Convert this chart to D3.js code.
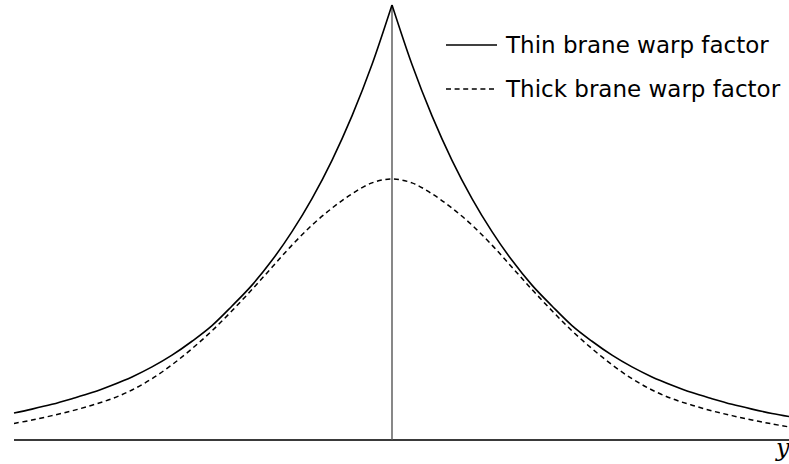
<!DOCTYPE html>
<html>
<head>
<meta charset="utf-8">
<script src="https://cdn.jsdelivr.net/npm/d3@7/dist/d3.min.js"></script>
<style>
  html, body { margin: 0; padding: 0; background: #fff; }
  svg { display: block; }
</style>
</head>
<body>
<svg id="chart" width="789" height="464"></svg>
<script>
// Extra-dimension coordinate y (sample positions)
const yPositions = [-3.78, -3.6, -3.4, -3.2, -3.0, -2.8, -2.6, -2.4, -2.2, -2.0, -1.8, -1.6, -1.4, -1.2, -1.0, -0.8, -0.6, -0.4, -0.2, 0,
                    0.2, 0.4, 0.6, 0.8, 1.0, 1.2, 1.4, 1.6, 1.8, 2.0, 2.2, 2.4, 2.6, 2.8, 3.0, 3.2, 3.4, 3.6, 3.8, 3.97];

// Thin brane warp factor (cusp at the brane, y = 0)
const thinWarp = [0.062, 0.071, 0.082, 0.095, 0.109, 0.126, 0.145, 0.168, 0.195, 0.227, 0.263, 0.308, 0.356, 0.413, 0.479, 0.555, 0.643, 0.745, 0.863, 1.000,
                  0.863, 0.745, 0.643, 0.555, 0.479, 0.413, 0.356, 0.308, 0.263, 0.227, 0.195, 0.168, 0.145, 0.126, 0.109, 0.095, 0.082, 0.071, 0.061, 0.054];

// Thick brane warp factor (smooth profile)
const thickWarp = [0.038, 0.046, 0.056, 0.067, 0.080, 0.095, 0.115, 0.141, 0.173, 0.210, 0.251, 0.297, 0.346, 0.397, 0.448, 0.494, 0.533, 0.566, 0.591, 0.600,
                   0.591, 0.566, 0.533, 0.494, 0.448, 0.397, 0.346, 0.297, 0.251, 0.210, 0.173, 0.141, 0.115, 0.095, 0.080, 0.067, 0.056, 0.046, 0.037, 0.030];

const legendLabels = ["Thin brane warp factor", "Thick brane warp factor"];
const axisLabel = "y";

const svg = d3.select("#chart");

const x = d3.scaleLinear().domain([-3.78, 3.97]).range([14, 789]);
const v = d3.scaleLinear().domain([0, 1]).range([440, 5]);

// Axes: horizontal y-axis and the brane position
svg.append("line")
  .attr("x1", x(-3.78)).attr("x2", x(3.97))
  .attr("y1", v(0)).attr("y2", v(0))
  .attr("stroke", "#3a3a3a").attr("stroke-width", 1.8);

svg.append("line")
  .attr("x1", x(0)).attr("x2", x(0))
  .attr("y1", v(0)).attr("y2", v(1))
  .attr("stroke", "#555").attr("stroke-width", 1.4);

const points = (vals) => yPositions.map((p, i) => [p, vals[i]]);
const line = d3.line().x(d => x(d[0])).y(d => v(d[1])).curve(d3.curveMonotoneX);

// Thin brane: draw each side of the cusp separately so the kink stays sharp
const thinPts = points(thinWarp);
const left = thinPts.filter(d => d[0] <= 0);
const right = thinPts.filter(d => d[0] >= 0);
[left, right].forEach(seg => {
  svg.append("path")
    .attr("d", line(seg))
    .attr("fill", "none")
    .attr("stroke", "#000")
    .attr("stroke-width", 1.6);
});

svg.append("path")
  .attr("d", d3.line().x(d => x(d[0])).y(d => v(d[1])).curve(d3.curveCatmullRom)(points(thickWarp)))
  .attr("fill", "none")
  .attr("stroke", "#000")
  .attr("stroke-width", 1.5)
  .attr("stroke-dasharray", "5,3.6");

// Legend
const legend = svg.append("g");
const rows = [{y: 45, dash: null}, {y: 89, dash: "5,3.6"}];
rows.forEach((r, i) => {
  legend.append("line")
    .attr("x1", 446).attr("x2", 497)
    .attr("y1", r.y).attr("y2", r.y)
    .attr("stroke", "#000").attr("stroke-width", 1.4)
    .attr("stroke-dasharray", r.dash);
  legend.append("text")
    .attr("x", 506).attr("y", r.y + 8)
    .attr("font-family", "DejaVu Sans")
    .attr("font-size", 23)
    .attr("fill", "#000")
    .text(legendLabels[i]);
});

svg.append("text")
  .attr("x", 776).attr("y", 456)
  .attr("font-family", "DejaVu Serif")
  .attr("font-style", "italic")
  .attr("font-size", 24)
  .attr("fill", "#000")
  .text(axisLabel);
</script>
</body>
</html>
